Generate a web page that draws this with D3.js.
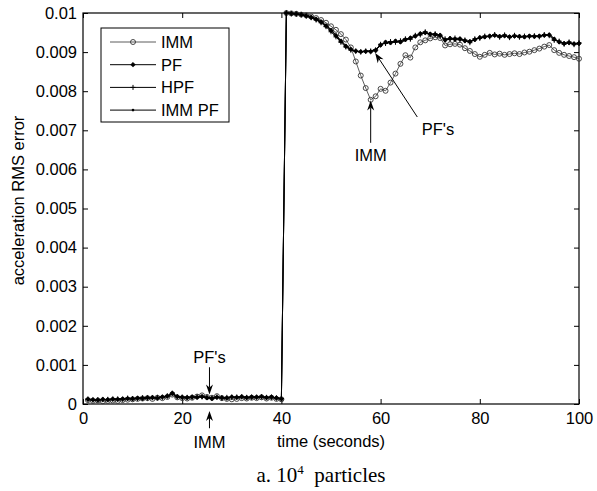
<!DOCTYPE html>
<html>
<head>
<meta charset="utf-8">
<script src="https://cdn.jsdelivr.net/npm/d3@7"></script>
<style>
  body { margin: 0; background: #fff; }
  .sans { font-family: "Liberation Sans", Arial, sans-serif; }
</style>
</head>
<body>
<div id="chart"></div>
<script>
// time in seconds
var time = d3.range(1, 101);

var imm = [
  0.00010,0.00008,0.00009,0.00007,0.00008,0.00009,0.00008,0.00010,0.00011,0.00012,
  0.00013,0.00014,0.00015,0.00013,0.00016,0.00015,0.00018,0.00024,0.00017,0.00015,
  0.00014,0.00016,0.00019,0.00022,0.00018,0.00016,0.00020,0.00015,0.00013,0.00012,
  0.00013,0.00015,0.00014,0.00016,0.00015,0.00017,0.00014,0.00016,0.00013,0.00012,
  0.01000,0.00999,0.00998,0.00996,0.00994,0.00991,0.00987,0.00982,0.00975,0.00966,
  0.00957,0.00946,0.00932,0.00912,0.00876,0.00840,0.00808,0.00778,0.00787,0.00806,
  0.00801,0.00822,0.00845,0.00870,0.00892,0.00886,0.00912,0.00925,0.00930,0.00935,
  0.00938,0.00936,0.00917,0.00920,0.00921,0.00919,0.00910,0.00903,0.00895,0.00888,
  0.00893,0.00898,0.00894,0.00896,0.00893,0.00895,0.00897,0.00895,0.00899,0.00901,
  0.00905,0.00909,0.00914,0.00918,0.00905,0.00898,0.00893,0.00890,0.00887,0.00883
];

var pf = [
  0.00012,0.00011,0.00010,0.00012,0.00011,0.00013,0.00012,0.00013,0.00014,0.00013,
  0.00015,0.00014,0.00016,0.00017,0.00015,0.00018,0.00020,0.00028,0.00019,0.00017,
  0.00016,0.00018,0.00017,0.00019,0.00016,0.00014,0.00017,0.00016,0.00015,0.00018,
  0.00017,0.00019,0.00016,0.00018,0.00017,0.00019,0.00016,0.00018,0.00015,0.00013,
  0.01000,0.00999,0.00998,0.00996,0.00993,0.00989,0.00984,0.00977,0.00967,0.00955,
  0.00942,0.00928,0.00915,0.00907,0.00903,0.00901,0.00902,0.00901,0.00904,0.00918,
  0.00925,0.00924,0.00928,0.00926,0.00932,0.00936,0.00941,0.00947,0.00950,0.00946,
  0.00945,0.00943,0.00931,0.00935,0.00933,0.00934,0.00929,0.00927,0.00932,0.00937,
  0.00939,0.00941,0.00943,0.00940,0.00942,0.00939,0.00941,0.00940,0.00939,0.00941,
  0.00940,0.00941,0.00943,0.00944,0.00933,0.00926,0.00922,0.00924,0.00921,0.00922
];

var hpf = [
  0.00013,0.00010,0.00011,0.00011,0.00012,0.00012,0.00013,0.00012,0.00015,0.00014,
  0.00014,0.00016,0.00015,0.00016,0.00017,0.00017,0.00021,0.00026,0.00018,0.00018,
  0.00017,0.00017,0.00019,0.00018,0.00017,0.00015,0.00018,0.00015,0.00017,0.00017,
  0.00018,0.00018,0.00017,0.00017,0.00018,0.00018,0.00017,0.00017,0.00016,0.00014,
  0.01000,0.00998,0.00997,0.00995,0.00992,0.00988,0.00982,0.00975,0.00965,0.00952,
  0.00939,0.00925,0.00913,0.00905,0.00902,0.00900,0.00903,0.00903,0.00906,0.00920,
  0.00922,0.00927,0.00925,0.00929,0.00934,0.00933,0.00943,0.00944,0.00952,0.00944,
  0.00947,0.00941,0.00934,0.00932,0.00936,0.00931,0.00931,0.00924,0.00934,0.00935,
  0.00941,0.00939,0.00945,0.00938,0.00944,0.00937,0.00943,0.00938,0.00941,0.00939,
  0.00942,0.00939,0.00945,0.00942,0.00930,0.00928,0.00920,0.00926,0.00919,0.00924
];

var immpf = [
  0.00011,0.00012,0.00010,0.00013,0.00010,0.00012,0.00013,0.00014,0.00013,0.00015,
  0.00014,0.00015,0.00017,0.00015,0.00016,0.00019,0.00019,0.00027,0.00020,0.00016,
  0.00018,0.00016,0.00018,0.00020,0.00015,0.00016,0.00016,0.00017,0.00016,0.00019,
  0.00016,0.00018,0.00018,0.00016,0.00019,0.00017,0.00018,0.00016,0.00017,0.00013,
  0.01000,0.00999,0.00997,0.00996,0.00994,0.00990,0.00985,0.00978,0.00969,0.00957,
  0.00944,0.00930,0.00917,0.00908,0.00901,0.00902,0.00900,0.00903,0.00907,0.00916,
  0.00927,0.00922,0.00930,0.00924,0.00930,0.00938,0.00939,0.00949,0.00948,0.00948,
  0.00943,0.00945,0.00929,0.00937,0.00931,0.00936,0.00927,0.00929,0.00930,0.00939,
  0.00937,0.00943,0.00941,0.00942,0.00940,0.00941,0.00939,0.00942,0.00937,0.00943,
  0.00938,0.00943,0.00941,0.00946,0.00935,0.00924,0.00924,0.00922,0.00923,0.00920
];

var seriesNames = ["IMM", "PF", "HPF", "IMM PF"];
var xTicks = [0, 20, 40, 60, 80, 100];
var yTicks = [0, 0.001, 0.002, 0.003, 0.004, 0.005, 0.006, 0.007, 0.008, 0.009, 0.01];
var yTickLabels = ["0", "0.001", "0.002", "0.003", "0.004", "0.005", "0.006", "0.007", "0.008", "0.009", "0.01"];

var width = 597, height = 491;
var margin = { top: 13, right: 18, bottom: 87, left: 83 };
var w = width - margin.left - margin.right;
var h = height - margin.top - margin.bottom;
var fs = 16.5;

var svg = d3.select("#chart").append("svg")
  .attr("width", width)
  .attr("height", height);

var g = svg.append("g")
  .attr("class", "sans")
  .attr("transform", "translate(" + margin.left + "," + margin.top + ")");

var x = d3.scaleLinear().domain([0, 100]).range([0, w]);
var y = d3.scaleLinear().domain([0, 0.01]).range([h, 0]);

// axes with inward ticks, matlab style box
g.append("g")
  .attr("transform", "translate(0," + h + ")")
  .call(d3.axisBottom(x).tickValues(xTicks).tickSize(-5).tickPadding(8))
  .call(function(a) { a.select(".domain").remove(); })
  .selectAll("text").attr("class", "sans").attr("font-size", fs).attr("fill", "#000");

g.append("g")
  .call(d3.axisTop(x).tickValues(xTicks).tickSize(-5).tickFormat(""))
  .call(function(a) { a.select(".domain").remove(); });

g.append("g")
  .call(d3.axisLeft(y).tickValues(yTicks).tickSize(-5).tickPadding(6)
    .tickFormat(function(d, i) { return yTickLabels[i]; }))
  .call(function(a) { a.select(".domain").remove(); })
  .selectAll("text").attr("class", "sans").attr("font-size", fs).attr("fill", "#000");

g.append("g")
  .attr("transform", "translate(" + w + ",0)")
  .call(d3.axisRight(y).tickValues(yTicks).tickSize(-5).tickFormat(""))
  .call(function(a) { a.select(".domain").remove(); });

g.selectAll(".tick line").attr("stroke", "#000");

g.append("rect")
  .attr("width", w).attr("height", h)
  .attr("fill", "none").attr("stroke", "#000").attr("stroke-width", 1.2);

// series
var allSeries = [imm, pf, hpf, immpf];
var line = d3.line()
  .x(function(d, i) { return x(time[i]); })
  .y(function(d) { return y(d); });

var lineColors = ["#333", "#000", "#000", "#000"];

function drawMarker(sel, k) {
  if (k === 0) {
    sel.append("circle").attr("r", 2.5)
      .attr("fill", "none").attr("stroke", "#333").attr("stroke-width", 0.9);
  } else if (k === 1) {
    sel.append("path").attr("d", "M0,-2.4L2.4,0L0,2.4L-2.4,0Z")
      .attr("fill", "#000").attr("stroke", "#000").attr("stroke-width", 0.5);
  } else if (k === 2) {
    sel.append("path").attr("d", "M-2.5,0H2.5M0,-2.5V2.5")
      .attr("stroke", "#000").attr("stroke-width", 1);
  } else {
    sel.append("circle").attr("r", 1.3).attr("fill", "#000");
  }
}

allSeries.forEach(function(vals, k) {
  g.append("path")
    .datum(vals)
    .attr("fill", "none")
    .attr("stroke", lineColors[k])
    .attr("stroke-width", k === 0 ? 0.8 : 1)
    .attr("d", line);
  var m = g.append("g").selectAll("g")
    .data(vals)
    .enter().append("g")
    .attr("transform", function(d, i) { return "translate(" + x(time[i]) + "," + y(d) + ")"; });
  drawMarker(m, k);
});

// annotations (data coordinates)
var annotations = [
  { label: "IMM", tx: 58, ty: 0.00622, anchor: "middle", x1: 58, y1: 0.00668, x2: 58, y2: 0.00776 },
  { label: "PF's", tx: 68.3, ty: 0.00688, anchor: "start", x1: 67.4, y1: 0.00734, x2: 58.9, y2: 0.00898 },
  { label: "PF's", tx: 25.5, ty: 0.00105, anchor: "middle", x1: 25.5, y1: 0.00094, x2: 25.5, y2: 0.00024 },
  { label: "IMM", tx: 25.5, ty: -0.00113, anchor: "middle", x1: 25.5, y1: -0.00062, x2: 25.5, y2: -0.00018 }
];

function arrow(x1, y1, x2, y2) {
  var ang = Math.atan2(y2 - y1, x2 - x1);
  var len = 10, half = 3.5, back = 7;
  var bx = x2 - len * Math.cos(ang), by = y2 - len * Math.sin(ang);
  var mx = x2 - back * Math.cos(ang), my = y2 - back * Math.sin(ang);
  var px = -Math.sin(ang) * half, py = Math.cos(ang) * half;
  g.append("line")
    .attr("x1", x1).attr("y1", y1).attr("x2", mx).attr("y2", my)
    .attr("stroke", "#000").attr("stroke-width", 1);
  g.append("path")
    .attr("d", "M" + x2 + "," + y2 + "L" + (bx + px) + "," + (by + py) +
      "L" + mx + "," + my + "L" + (bx - px) + "," + (by - py) + "Z")
    .attr("fill", "#000");
}

annotations.forEach(function(a) {
  arrow(x(a.x1), y(a.y1), x(a.x2), y(a.y2));
  g.append("text")
    .attr("x", x(a.tx)).attr("y", y(a.ty))
    .attr("text-anchor", a.anchor)
    .attr("font-size", fs)
    .text(a.label);
});

// legend
var leg = g.append("g").attr("transform", "translate(18,15)");
leg.append("rect")
  .attr("width", 128).attr("height", 94)
  .attr("fill", "#fff").attr("stroke", "#000").attr("stroke-width", 1);
seriesNames.forEach(function(name, k) {
  var ly = 14 + k * 22.7;
  leg.append("line")
    .attr("x1", 9).attr("x2", 55).attr("y1", ly).attr("y2", ly)
    .attr("stroke", lineColors[k]).attr("stroke-width", k === 0 ? 0.8 : 1);
  drawMarker(leg.append("g").attr("transform", "translate(32," + ly + ")"), k);
  leg.append("text")
    .attr("x", 60).attr("y", ly + 6)
    .attr("font-size", fs)
    .text(name);
});

// axis titles
svg.append("text")
  .attr("class", "sans")
  .attr("x", margin.left + w / 2).attr("y", 447)
  .attr("text-anchor", "middle")
  .attr("font-size", fs)
  .text("time (seconds)");

svg.append("text")
  .attr("class", "sans")
  .attr("transform", "translate(24," + (margin.top + h / 2 - 8) + ") rotate(-90)")
  .attr("text-anchor", "middle")
  .attr("font-size", fs)
  .text("acceleration RMS error");

// caption
var cap = svg.append("text")
  .attr("x", 321).attr("y", 482)
  .attr("text-anchor", "middle")
  .style("font-family", "'Liberation Serif', 'Times New Roman', serif")
  .attr("font-size", 21);
cap.append("tspan").text("a. 10");
cap.append("tspan").attr("dy", -8).attr("font-size", 13).text("4");
cap.append("tspan").attr("dy", 8).text("\u00a0 particles");
</script>
</body>
</html>
